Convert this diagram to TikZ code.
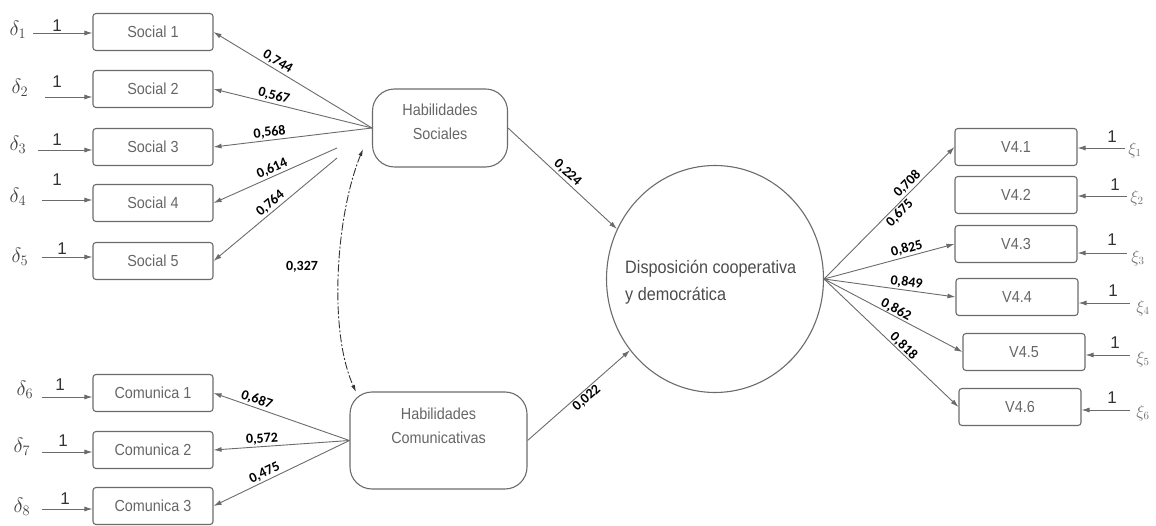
\documentclass[tikz,border=0pt]{standalone}
\usepackage{fontspec}
\setmainfont{Liberation Sans}
\newfontfamily\narrowf[FakeStretch=0.9]{Liberation Sans}
\newfontfamily\labf{Carlito}
\usetikzlibrary{arrows.meta,shapes.geometric}
\definecolor{ln}{gray}{0.42}
\definecolor{tx}{gray}{0.40}
\begin{document}
\begin{tikzpicture}[x=1pt,y=-1pt,
 obs/.style={draw=ln, line width=1.1pt, rounded corners=3pt, minimum width=120pt, minimum height=37pt, font=\narrowf\fontsize{16}{19}\selectfont, text=tx, inner sep=0pt},
 lat/.style={draw=ln, line width=1.1pt, rounded corners=22pt, inner sep=0pt},
 ltext/.style={font=\narrowf\fontsize{16}{24}\selectfont, text=tx, align=center, inner sep=0pt},
 arr/.style={draw=ln, line width=0.9pt, -{Latex[length=8pt,width=5pt]}},
 lab/.style={font=\labf\bfseries\fontsize{14}{16}\selectfont, sloped, inner sep=1.5pt, text=black},
 one/.style={font=\fontsize{17}{17}\selectfont, text=black!80, inner sep=0pt},
 del/.style={font=\fontsize{21}{21}\selectfont, text=black!75, inner sep=0pt},
 xil/.style={font=\fontsize{16}{16}\selectfont, text=black!55, inner sep=0pt}]
\useasboundingbox (0,0) rectangle (1156,526);

% observed left
\node[obs] (s1) at (153,32) {Social 1};
\node[obs] (s2) at (153,89) {Social 2};
\node[obs] (s3) at (153,147) {Social 3};
\node[obs] (s4) at (153,203) {Social 4};
\node[obs] (s5) at (153,261) {Social 5};
\node[obs] (c1) at (153,393) {Comunica 1};
\node[obs] (c2) at (153,450) {Comunica 2};
\node[obs] (c3) at (153,506) {Comunica 3};

% latent
\node[lat, minimum width=135pt, minimum height=78pt] (hs) at (440,128) {};
\node[ltext] (hst) at (440,122) {Habilidades\\Sociales};
\node[lat, minimum width=177pt, minimum height=97pt] (hc) at (438.5,440.5) {};
\node[ltext] (hct) at (438.5,426) {Habilidades\\Comunicativas};
\node[ellipse, draw=ln, line width=1.1pt, minimum width=217pt, minimum height=227pt, inner sep=0pt] (dc) at (715,279) {};
\node[font=\narrowf\fontsize{18}{27}\selectfont, text=black!70, align=left, inner sep=0pt, anchor=west] (dct) at (625,282) {Disposición cooperativa\\y democrática};

% observed right
\node[obs, minimum width=122pt] (v1) at (1016,147) {V4.1};
\node[obs, minimum width=122pt] (v2) at (1016,195) {V4.2};
\node[obs, minimum width=122pt] (v3) at (1016,244) {V4.3};
\node[obs, minimum width=122pt] (v4) at (1017,297) {V4.4};
\node[obs, minimum width=122pt] (v5) at (1024,352) {V4.5};
\node[obs, minimum width=122pt] (v6) at (1020,407) {V4.6};

% errors left
\node[del] (d1) at (18,30) {$\delta_1$};
\node[del] (d2) at (20,88) {$\delta_2$};
\node[del] (d3) at (18,145) {$\delta_3$};
\node[del] (d4) at (18,197) {$\delta_4$};
\node[del] (d5) at (20,257) {$\delta_5$};
\node[del] (d6) at (25,390) {$\delta_6$};
\node[del] (d7) at (22,447) {$\delta_7$};
\node[del] (d8) at (22,507) {$\delta_8$};
\coordinate (e1) at (33,33);
\coordinate (e2) at (45,97);
\coordinate (e3) at (38,150);
\coordinate (e4) at (42,200);
\coordinate (e5) at (42,257);
\coordinate (e6) at (42,397);
\coordinate (e7) at (42,452);
\coordinate (e8) at (42,509);
\draw[arr] (e1) -- (e1 -| s1.west);
\draw[arr] (e2) -- (e2 -| s2.west);
\draw[arr] (e3) -- (e3 -| s3.west);
\draw[arr] (e4) -- (e4 -| s4.west);
\draw[arr] (e5) -- (e5 -| s5.west);
\draw[arr] (e6) -- (e6 -| c1.west);
\draw[arr] (e7) -- (e7 -| c2.west);
\draw[arr] (e8) -- (e8 -| c3.west);
\node[one] (o1) at (57,26) {1};
\node[one] (o2) at (57,82) {1};
\node[one] (o3) at (57,140) {1};
\node[one] (o4) at (57,180) {1};
\node[one] (o5) at (62,249) {1};
\node[one] (o6) at (60,385) {1};
\node[one] (o7) at (63,441) {1};
\node[one] (o8) at (65,499) {1};

% errors right
\node[xil] (x1) at (1135,150) {$\xi_1$};
\node[xil] (x2) at (1137,198) {$\xi_2$};
\node[xil] (x3) at (1138,258) {$\xi_3$};
\node[xil] (x4) at (1143,308) {$\xi_4$};
\node[xil] (x5) at (1143,359) {$\xi_5$};
\node[xil] (x6) at (1143,413) {$\xi_6$};
\coordinate (r1) at (1125,148);
\coordinate (r2) at (1127,196);
\coordinate (r3) at (1127,253);
\coordinate (r4) at (1130,303);
\coordinate (r5) at (1130,355);
\coordinate (r6) at (1130,410);
\draw[arr] (r1) -- (r1 -| v1.east);
\draw[arr] (r2) -- (r2 -| v2.east);
\draw[arr] (r3) -- (r3 -| v3.east);
\draw[arr] (r4) -- (r4 -| v4.east);
\draw[arr] (r5) -- (r5 -| v5.east);
\draw[arr] (r6) -- (r6 -| v6.east);
\node[one] (q1) at (1112,137) {1};
\node[one] (q2) at (1115,185) {1};
\node[one] (q3) at (1112,240) {1};
\node[one] (q4) at (1113,291) {1};
\node[one] (q5) at (1115,343) {1};
\node[one] (q6) at (1112,398) {1};

% loadings Habilidades Sociales
\coordinate (h4) at (337,148);
\coordinate (h5) at (337,158);
\draw[arr] (hs.west) -- node[lab, pos=0.62, above] {0,744} (s1.east);
\draw[arr] (hs.west) -- node[lab, pos=0.63, above] {0,567} (s2.east);
\draw[arr] (hs.west) -- node[lab, pos=0.64, above] {0,568} (s3.east);
\draw[arr] (h4) -- node[lab, pos=0.5, above] {0,614} (s4.east);
\draw[arr] (h5) -- node[lab, pos=0.5, above] {0,764} (s5.east);

% loadings Habilidades Comunicativas
\draw[arr] (hc.west) -- node[lab, pos=0.7, above] {0,687} (c1.east);
\draw[arr] (hc.west) -- node[lab, pos=0.64, above] {0,572} (c2.east);
\draw[arr] (hc.west) -- node[lab, pos=0.6, above] {0,475} (c3.east);

% structural paths
\draw[arr] (hs.east) -- node[lab, pos=0.5, above] {0,224} (dc.153);
\draw[arr] (hc.east) -- node[lab, pos=0.53, below] {0,022} (dc.220);

% correlation
\coordinate (ca) at (363,149);
\coordinate (cb) at (356,392);
\draw[black!80, line width=0.9pt, dash pattern=on 8pt off 2pt on 2pt off 2pt, {Latex[length=7pt,width=4pt]}-{Latex[length=7pt,width=4pt]}] (ca) .. controls (336,215) and (328,330) .. (cb);
\node[font=\labf\bfseries\fontsize{14}{16}\selectfont, inner sep=0pt] (corr) at (302,267) {0,327};

% loadings V4
\draw[arr] (dc.east) -- node[lab, pos=0.68, above] {0,708} node[lab, pos=0.54, below] {0,675} (v1.west);
\draw[arr] (dc.east) -- node[lab, pos=0.65, above] {0,825} (v3.west);
\draw[arr] (dc.east) -- node[lab, pos=0.62, above] {0,849} (v4.west);
\draw[arr] (dc.east) -- node[lab, pos=0.5, above, inner sep=0pt] {0,862} (v5.west);
\draw[arr] (dc.east) -- node[lab, pos=0.56, above, inner sep=0pt] {0,818} (v6.west);
\end{tikzpicture}
\end{document}
